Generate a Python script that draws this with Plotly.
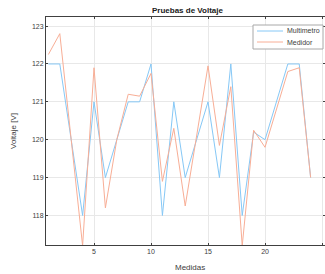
import plotly.graph_objects as go

medidas = list(range(1, 25))
multimetro = [122, 122, 120, 118, 121, 119, 120, 121, 121, 122, 118, 121,
              119, 120, 121, 119, 122, 118, 120.2, 120, 121, 122, 122, 119]
medidor = [122.25, 122.8, 120, 117.2, 121.9, 118.2, 120, 121.2, 121.15, 121.75, 118.9, 120.3,
           118.25, 120.1, 121.95, 119.85, 121.4, 117.2, 120.25, 119.8, 120.8, 121.8, 121.9, 119]
series_names = ["Multimetro", "Medidor"]
series_colors = ["#86c8f6", "#f8ae96"]
y_ticks = [118, 119, 120, 121, 122, 123]
x_ticks = [5, 10, 15, 20, 25]

font_fam = "Liberation Sans, Arial, sans-serif"

fig = go.Figure()
for vals, name, col in zip([multimetro, medidor], series_names, series_colors):
    fig.add_trace(go.Scatter(x=medidas, y=vals, mode="lines", name=name,
                             line=dict(color=col, width=1), showlegend=False))

W, H = 325, 274
ml, mr, mt, mb = 46, 0, 17, 29
pw, ph = W - ml - mr, H - mt - mb


def px(xp):
    return (xp - ml) / pw


def py(yp):
    return (H - yp - mb) / ph


annotations = [
    dict(text="<b>Pruebas de Voltaje</b>", x=px(188), y=py(10),
         font=dict(size=8, color="#202020")),
    dict(text="Medidas", x=px(190), y=py(267), font=dict(size=8, color="#404040")),
    dict(text="Voltaje [V]", x=px(13), y=py(131), textangle=-90,
         font=dict(size=8, color="#404040")),
]
shapes = [
    dict(type="rect", xref="paper", yref="paper", x0=px(253), x1=px(323), y0=py(49), y1=py(25),
         line=dict(color="#a8a8a8", width=1), fillcolor="white", layer="above"),
]
for i, (name, col) in enumerate(zip(series_names, series_colors)):
    yy = 31 + i * 11
    shapes.append(dict(type="line", xref="paper", yref="paper", x0=px(257), x1=px(283),
                       y0=py(yy), y1=py(yy), line=dict(color=col, width=1), layer="above"))
    annotations.append(dict(text=name, x=px(285), y=py(yy), xanchor="left",
                            font=dict(size=7, color="#404040")))

for a in annotations:
    a.update(xref="paper", yref="paper", showarrow=False)
    a.setdefault("xanchor", "center")
    a["yanchor"] = "middle"

fig.update_layout(
    width=W, height=H,
    margin=dict(l=ml, r=mr, t=mt, b=mb, pad=0),
    paper_bgcolor="white", plot_bgcolor="white",
    font=dict(family=font_fam, size=7, color="#404040"),
    showlegend=False,
    xaxis=dict(range=[0.79, 25.26], tickvals=x_ticks, showgrid=True, gridcolor="#e8e8e8",
               gridwidth=1, zeroline=False, showline=True, linecolor="#404040", linewidth=1,
               mirror="ticks", ticks="inside", ticklen=2, tickcolor="#404040",
               tickfont=dict(size=7, color="#404040")),
    yaxis=dict(range=[117.22, 123.24], tickvals=y_ticks, showgrid=True, gridcolor="#e8e8e8",
               gridwidth=1, zeroline=False, showline=True, linecolor="#404040", linewidth=1,
               mirror="ticks", ticks="inside", ticklen=2, tickcolor="#404040",
               tickfont=dict(size=7, color="#404040")),
    annotations=annotations,
    shapes=shapes,
)

fig.write_html("out.html", config={"displayModeBar": False},
               post_script="document.body.style.margin='0';document.body.style.overflow='hidden';")
